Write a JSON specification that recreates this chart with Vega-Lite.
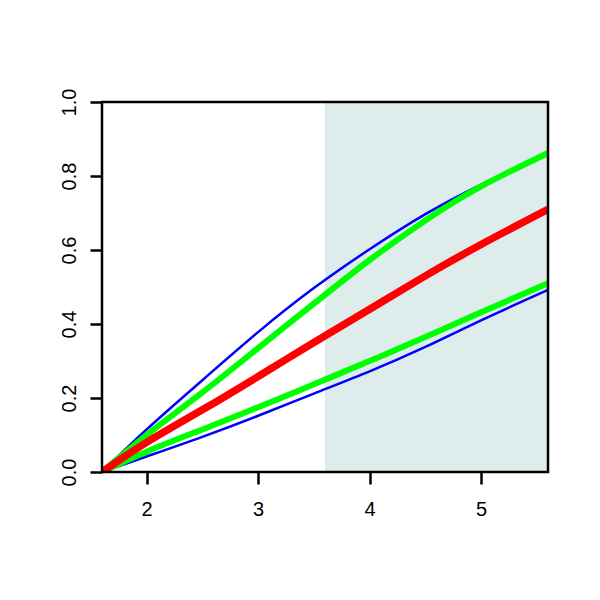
{
  "$schema": "https://vega.github.io/schema/vega-lite/v6.json",
  "autosize": "none",
  "width": 446,
  "height": 370,
  "padding": {"left": 102, "top": 102, "right": 52, "bottom": 128},
  "background": "white",
  "config": {
    "view": {"stroke": null},
    "font": "Liberation Sans",
    "axis": {
      "domain": false,
      "grid": false,
      "ticks": true,
      "tickColor": "black",
      "tickWidth": 2.5,
      "tickSize": 12,
      "labelFont": "Liberation Sans",
      "labelFontSize": 20,
      "labelColor": "black",
      "title": null
    }
  },
  "datasets": {
    "curves": [
      {"s": "B1", "g": "blue", "x": 1.6, "y": 0},
      {"s": "B1", "g": "blue", "x": 2.0, "y": 0.115},
      {"s": "B1", "g": "blue", "x": 2.5, "y": 0.248},
      {"s": "B1", "g": "blue", "x": 3.0, "y": 0.378},
      {"s": "B1", "g": "blue", "x": 3.5, "y": 0.497},
      {"s": "B1", "g": "blue", "x": 4.0, "y": 0.602},
      {"s": "B1", "g": "blue", "x": 4.5, "y": 0.697},
      {"s": "B1", "g": "blue", "x": 5.0, "y": 0.777},
      {"s": "B1", "g": "blue", "x": 5.6, "y": 0.863},
      {"s": "B2", "g": "blue", "x": 1.6, "y": 0},
      {"s": "B2", "g": "blue", "x": 2.0, "y": 0.042},
      {"s": "B2", "g": "blue", "x": 2.5, "y": 0.095},
      {"s": "B2", "g": "blue", "x": 3.0, "y": 0.152},
      {"s": "B2", "g": "blue", "x": 3.5, "y": 0.212},
      {"s": "B2", "g": "blue", "x": 4.0, "y": 0.272},
      {"s": "B2", "g": "blue", "x": 4.5, "y": 0.338},
      {"s": "B2", "g": "blue", "x": 5.0, "y": 0.41},
      {"s": "B2", "g": "blue", "x": 5.6, "y": 0.492},
      {"s": "G1", "g": "green", "x": 1.6, "y": 0},
      {"s": "G1", "g": "green", "x": 2.0, "y": 0.1},
      {"s": "G1", "g": "green", "x": 2.5, "y": 0.215},
      {"s": "G1", "g": "green", "x": 3.0, "y": 0.335},
      {"s": "G1", "g": "green", "x": 3.5, "y": 0.455},
      {"s": "G1", "g": "green", "x": 4.0, "y": 0.573},
      {"s": "G1", "g": "green", "x": 4.5, "y": 0.68},
      {"s": "G1", "g": "green", "x": 5.0, "y": 0.772},
      {"s": "G1", "g": "green", "x": 5.6, "y": 0.862},
      {"s": "G2", "g": "green", "x": 1.6, "y": 0},
      {"s": "G2", "g": "green", "x": 2.0, "y": 0.055},
      {"s": "G2", "g": "green", "x": 2.5, "y": 0.115},
      {"s": "G2", "g": "green", "x": 3.0, "y": 0.175},
      {"s": "G2", "g": "green", "x": 3.5, "y": 0.237},
      {"s": "G2", "g": "green", "x": 4.0, "y": 0.3},
      {"s": "G2", "g": "green", "x": 4.5, "y": 0.365},
      {"s": "G2", "g": "green", "x": 5.0, "y": 0.432},
      {"s": "G2", "g": "green", "x": 5.6, "y": 0.51},
      {"s": "R", "g": "red", "x": 1.6, "y": 0},
      {"s": "R", "g": "red", "x": 2.0, "y": 0.08},
      {"s": "R", "g": "red", "x": 2.5, "y": 0.168},
      {"s": "R", "g": "red", "x": 3.0, "y": 0.258},
      {"s": "R", "g": "red", "x": 3.5, "y": 0.35},
      {"s": "R", "g": "red", "x": 4.0, "y": 0.44},
      {"s": "R", "g": "red", "x": 4.5, "y": 0.53},
      {"s": "R", "g": "red", "x": 5.0, "y": 0.615},
      {"s": "R", "g": "red", "x": 5.6, "y": 0.71}
    ],
    "shade": [{"x1": 3.6, "x2": 5.6, "y1": 0, "y2": 1}],
    "frame": [{"x1": 1.6, "x2": 5.6, "y1": 0, "y2": 1}]
  },
  "layer": [
    {
      "data": {"name": "shade"},
      "mark": {"type": "rect", "fill": "#dfecec", "stroke": null},
      "encoding": {
        "x": {"field": "x1", "type": "quantitative", "scale": {"domain": [1.6, 5.6], "nice": false, "zero": false},
              "axis": {"values": [2, 3, 4, 5], "format": "d", "labelPadding": 15, "labelAngle": 0, "labelFontSize": 20}},
        "x2": {"field": "x2"},
        "y": {"field": "y1", "type": "quantitative", "scale": {"domain": [0, 1], "nice": false},
              "axis": {"values": [0, 0.2, 0.4, 0.6, 0.8, 1.0], "format": ".1f", "labelAngle": 270, "labelPadding": 11, "labelAlign": "center", "labelBaseline": "bottom", "labelFontSize": 20}},
        "y2": {"field": "y2"}
      }
    },
    {
      "data": {"name": "curves"},
      "transform": [{"filter": "datum.g === 'blue'"}],
      "mark": {"type": "line", "color": "#0000ff", "strokeWidth": 2.5, "interpolate": "natural", "clip": true},
      "encoding": {
        "x": {"field": "x", "type": "quantitative"},
        "y": {"field": "y", "type": "quantitative"},
        "detail": {"field": "s"}
      }
    },
    {
      "data": {"name": "curves"},
      "transform": [{"filter": "datum.g === 'green'"}],
      "mark": {"type": "line", "color": "#00ff00", "strokeWidth": 6, "interpolate": "natural", "clip": true},
      "encoding": {
        "x": {"field": "x", "type": "quantitative"},
        "y": {"field": "y", "type": "quantitative"},
        "detail": {"field": "s"}
      }
    },
    {
      "data": {"name": "curves"},
      "transform": [{"filter": "datum.g === 'red'"}],
      "mark": {"type": "line", "color": "#ff0000", "strokeWidth": 7.5, "interpolate": "natural", "clip": true},
      "encoding": {
        "x": {"field": "x", "type": "quantitative"},
        "y": {"field": "y", "type": "quantitative"},
        "detail": {"field": "s"}
      }
    },
    {
      "data": {"name": "frame"},
      "mark": {"type": "rect", "filled": false, "stroke": "black", "strokeWidth": 2.5},
      "encoding": {
        "x": {"field": "x1", "type": "quantitative"},
        "x2": {"field": "x2"},
        "y": {"field": "y1", "type": "quantitative"},
        "y2": {"field": "y2"}
      }
    }
  ]
}
